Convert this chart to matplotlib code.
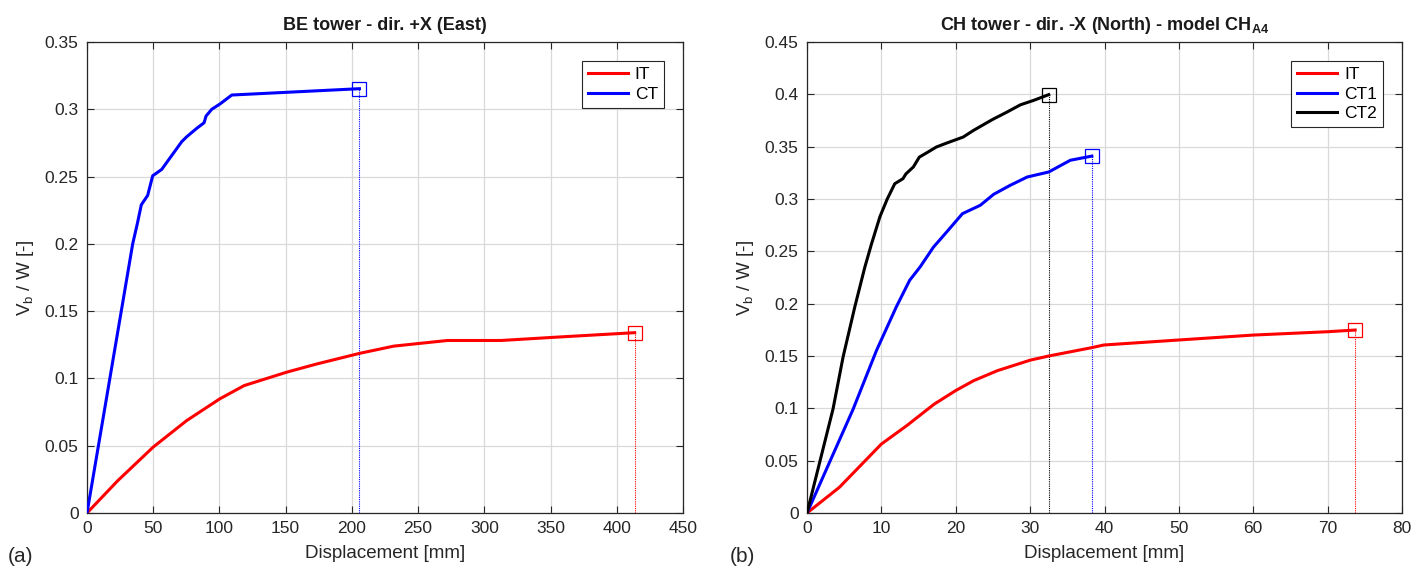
import matplotlib
matplotlib.use("Agg")
import matplotlib.pyplot as plt
from matplotlib.ticker import FuncFormatter

plt.rcParams['font.family'] = ['Liberation Sans', 'DejaVu Sans']
plt.rcParams['mathtext.fontset'] = 'custom'
plt.rcParams['mathtext.rm'] = 'Liberation Sans'
plt.rcParams['mathtext.it'] = 'Liberation Sans'
plt.rcParams['mathtext.bf'] = 'Liberation Sans:bold'

# ---- Data: panel (a) BE tower ----
be_it_x = [0, 23.2, 50, 75.3, 100.2, 118.7, 150.6, 173.7, 206.1, 231.6, 272.1, 312.7, 353.2, 413.5]
be_it_y = [0, 0.024, 0.049, 0.0687, 0.0848, 0.0947, 0.1046, 0.1108, 0.1187, 0.124, 0.1282, 0.1282, 0.1306, 0.134]
be_ct_x = [0, 34.5, 38.0, 41.0, 45.8, 49.6, 56.4, 60.2, 71.5, 75.3, 82.8, 88.4, 89.9, 94.2, 100.5, 109.3, 205.7]
be_ct_y = [0, 0.200, 0.215, 0.229, 0.236, 0.2506, 0.2553, 0.2605, 0.2759, 0.2796, 0.2858, 0.290, 0.295, 0.300, 0.304, 0.3106, 0.3153]

# ---- Data: panel (b) CH tower ----
ch_it_x = [0, 4.35, 10.0, 13.4, 17.1, 20.0, 22.4, 25.6, 30.0, 32.5, 38.3, 39.9, 50, 60, 70, 73.7]
ch_it_y = [0, 0.0245, 0.0659, 0.0834, 0.104, 0.117, 0.1264, 0.136, 0.146, 0.150, 0.158, 0.1605, 0.1653, 0.170, 0.1732, 0.1748]
ch_ct1_x = [0, 6.19, 9.35, 12.0, 13.8, 15.2, 17.0, 18.6, 20.9, 23.3, 25.1, 27.3, 29.6, 32.5, 35.4, 38.3]
ch_ct1_y = [0, 0.099, 0.1554, 0.1968, 0.2223, 0.235, 0.254, 0.267, 0.286, 0.294, 0.3045, 0.313, 0.321, 0.3258, 0.337, 0.341]
ch_ct2_x = [0, 3.5, 4.85, 6.43, 7.78, 8.67, 9.80, 10.79, 11.8, 12.9, 13.3, 14.3, 15.1, 16.3, 17.4, 18.8,
            21.0, 22.4, 24.9, 26.9, 28.7, 30.5, 32.5]
ch_ct2_y = [0, 0.0994, 0.149, 0.197, 0.235, 0.257, 0.283, 0.300, 0.3146, 0.3194, 0.324, 0.3306, 0.340, 0.345,
            0.3497, 0.3535, 0.3592, 0.3656, 0.3758, 0.3831, 0.390, 0.3943, 0.3997]

titles = ["BE tower - dir. +X (East)", r"CH tower - dir. -X (North) - model CH$_{\mathbf{A4}}$"]
xticks_a = list(range(0, 451, 50))
yticks_a = [0, 0.05, 0.1, 0.15, 0.2, 0.25, 0.3, 0.35]
xticks_b = list(range(0, 81, 10))
yticks_b = [0, 0.05, 0.1, 0.15, 0.2, 0.25, 0.3, 0.35, 0.4, 0.45]

fig = plt.figure(figsize=(14.27, 5.71), dpi=100)
H = 571.0
W = 1427.0
ax1 = fig.add_axes([87 / W, (H - 513) / H, 596 / W, 471 / H])
ax2 = fig.add_axes([807 / W, (H - 513) / H, 595 / W, 471 / H])

fmt = FuncFormatter(lambda v, p: ('%g' % round(v, 4)))
axc = '#262626'


def style(ax, xt, yt):
    ax.set_xticks(xt)
    ax.set_yticks(yt)
    ax.set_xlim(xt[0], xt[-1])
    ax.set_ylim(yt[0], yt[-1])
    ax.xaxis.set_major_formatter(fmt)
    ax.yaxis.set_major_formatter(fmt)
    ax.grid(True, color='#d9d9d9', linewidth=0.9)
    ax.set_axisbelow(True)
    ax.tick_params(direction='in', top=True, right=True, length=5, width=0.8,
                   labelsize=12.5, colors=axc, labelcolor=axc, pad=6)
    for s in ax.spines.values():
        s.set_color(axc)
        s.set_linewidth(0.9)
    ax.set_xlabel("Displacement [mm]", fontsize=13.5, color=axc, labelpad=6)
    ax.set_ylabel(r"V$_{\mathrm{b}}$ / W [-]", fontsize=13.5, color=axc, labelpad=6)


def curve(ax, x, y, color, label):
    ax.plot(x, y, color=color, lw=2.2, label=label, zorder=3)
    ax.plot([x[-1], x[-1]], [0, y[-1]], color=color, lw=0.8, ls=(0, (1, 1)), zorder=2)
    ax.plot([x[-1]], [y[-1]], marker='s', ms=10, mfc='none', mec=color, mew=0.9, zorder=4)


style(ax1, xticks_a, yticks_a)
curve(ax1, be_it_x, be_it_y, '#ff0000', 'IT')
curve(ax1, be_ct_x, be_ct_y, '#0000ff', 'CT')
ax1.set_title(titles[0], fontsize=13, fontweight='bold', color='#1a1a1a', pad=9)

style(ax2, xticks_b, yticks_b)
curve(ax2, ch_it_x, ch_it_y, '#ff0000', 'IT')
curve(ax2, ch_ct1_x, ch_ct1_y, '#0000ff', 'CT1')
curve(ax2, ch_ct2_x, ch_ct2_y, '#000000', 'CT2')
ax2.set_title(titles[1], fontsize=13, fontweight='bold', color='#1a1a1a', pad=9)

for ax in (ax1, ax2):
    leg = ax.legend(loc='upper right', fontsize=12.5, fancybox=False, framealpha=1,
                    edgecolor='#262626', handlelength=2.3, handletextpad=0.4,
                    borderpad=0.35, labelspacing=0.25, borderaxespad=1.1)
    leg.get_frame().set_linewidth(0.8)

fig.text(8 / W, 1 - 556 / H, "(a)", fontsize=15, va='center', ha='left', color=axc)
fig.text(730 / W, 1 - 556 / H, "(b)", fontsize=15, va='center', ha='left', color=axc)

fig.savefig("out.png", dpi=100)
